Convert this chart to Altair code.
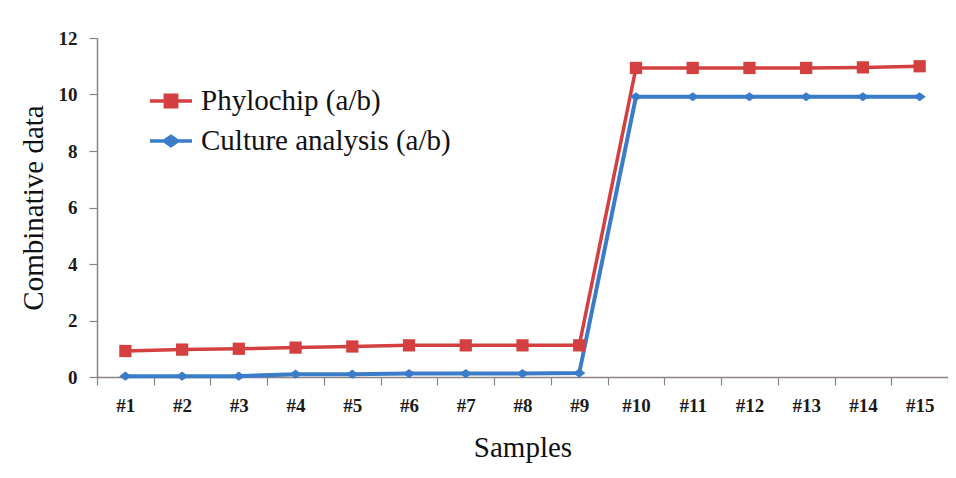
import altair as alt
import pandas as pd

# ---- data ----
samples = ["#1", "#2", "#3", "#4", "#5", "#6", "#7", "#8", "#9",
           "#10", "#11", "#12", "#13", "#14", "#15"]
phylochip = [0.92, 0.97, 1.0, 1.04, 1.08, 1.12, 1.12, 1.12, 1.12,
             10.94, 10.94, 10.94, 10.94, 10.96, 11.0]
culture = [0.03, 0.03, 0.03, 0.1, 0.1, 0.12, 0.12, 0.12, 0.14,
           9.92, 9.92, 9.92, 9.92, 9.92, 9.92]
series_names = ["Phylochip (a/b)", "\u2002Culture analysis (a/b)"]
y_ticks = [0, 2, 4, 6, 8, 10, 12]

RED = "#d43f3f"
BLUE = "#3b7cc9"
AXIS = "#8c8282"
FONT = "Liberation Serif, DejaVu Serif, serif"

rows = []
for s, v in zip(samples, phylochip):
    rows.append({"sample": s, "value": v, "series": series_names[0]})
for s, v in zip(samples, culture):
    rows.append({"sample": s, "value": v, "series": series_names[1]})
df = pd.DataFrame(rows)
legend_df = pd.DataFrame({"series": series_names})

x_enc = alt.X(
    "sample:N", sort=samples, bandPosition=0.5,
    scale=alt.Scale(type="band", paddingInner=0, paddingOuter=0),
    axis=alt.Axis(title="Samples", labelAngle=0, tickBand="extent", tickSize=8,
                  tickColor=AXIS, domainColor=AXIS, domainWidth=1.5, tickWidth=1.2,
                  labelFont=FONT, labelFontWeight="bold", labelFontSize=19,
                  labelColor="#1a1a1a", labelPadding=11,
                  titleFont=FONT, titleFontSize=29, titleFontWeight="normal",
                  titleColor="#111111", titlePadding=18, grid=False),
)
y_enc = alt.Y(
    "value:Q",
    scale=alt.Scale(domain=[0, 12], nice=False),
    axis=alt.Axis(title="Combinative data", values=y_ticks, tickSize=8,
                  tickColor=AXIS, domainColor=AXIS, domainWidth=1.5, tickWidth=1.2,
                  labelFont=FONT, labelFontWeight="bold", labelFontSize=19,
                  labelColor="#1a1a1a", labelPadding=12,
                  titleFont=FONT, titleFontSize=29, titleFontWeight="normal",
                  titleColor="#111111", titlePadding=10, grid=False),
)

base = alt.Chart(df).encode(x=x_enc, y=y_enc)

blue_line = base.transform_filter(alt.datum.series == series_names[1]).mark_line(
    color=BLUE, strokeWidth=4)
red_line = base.transform_filter(alt.datum.series == series_names[0]).mark_line(
    color=RED, strokeWidth=3.5)
blue_pts = base.transform_filter(alt.datum.series == series_names[1]).mark_point(
    shape="M-1,0L0,-0.75L1,0L0,0.75Z", filled=True, opacity=1, color=BLUE, size=150)
red_pts = base.transform_filter(alt.datum.series == series_names[0]).mark_square(
    filled=True, opacity=1, color=RED, size=150)

leg = alt.Legend(orient="none", legendX=51, legendY=40, title=None)
path_red = "M-1,0L1,0M-0.27,-0.27L0.27,-0.27L0.27,0.27L-0.27,0.27Z"
path_blue = "M-1,0L1,0M-0.32,0L0,-0.22L0.32,0L0,0.22Z"
legend_layer = alt.Chart(legend_df).mark_point(filled=True, opacity=0).encode(
    fill=alt.Fill("series:N", scale=alt.Scale(domain=series_names, range=[RED, BLUE]), legend=leg),
    stroke=alt.Stroke("series:N", scale=alt.Scale(domain=series_names, range=[RED, BLUE]), legend=leg),
    shape=alt.Shape("series:N", scale=alt.Scale(domain=series_names, range=[path_red, path_blue]), legend=leg),
)

chart = alt.layer(blue_line, red_line, blue_pts, red_pts, legend_layer).properties(
    width=851, height=339,
    autosize=alt.AutoSizeParams(type="none"),
    padding={"left": 89, "top": 30, "right": 0, "bottom": 92},
    background="white",
).configure_view(stroke=None).configure_legend(
    symbolSize=1764, symbolStrokeWidth=3.5, symbolOpacity=1,
    labelFont=FONT, labelFontSize=29, labelColor="#111111", labelOffset=7,
    labelLimit=0, rowPadding=2, padding=0,
)

chart.save("out.html", embed_options={"renderer": "svg", "actions": False})
